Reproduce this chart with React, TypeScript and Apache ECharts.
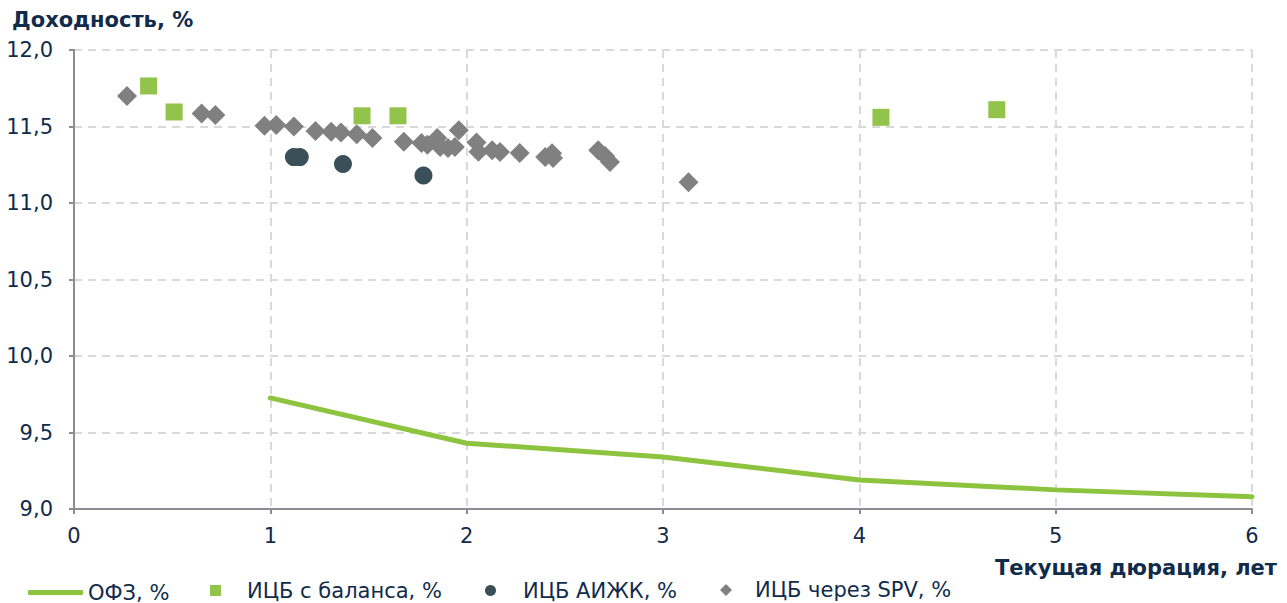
import React, { useEffect, useRef } from "react";
import * as echarts from "echarts";

const ofzDur = [1, 2, 3, 4, 5, 6];
const ofzYield = [9.726, 9.43, 9.34, 9.19, 9.125, 9.08];

const balanceDur = [0.38, 0.51, 1.467, 1.65, 4.11, 4.70];
const balanceYield = [11.765, 11.595, 11.57, 11.57, 11.56, 11.61];

const aizhkDur = [1.12, 1.15, 1.37, 1.78];
const aizhkYield = [11.3, 11.3, 11.255, 11.18];

const spvDur = [
  0.27, 0.65, 0.72, 0.97, 1.03, 1.12, 1.23, 1.31, 1.36, 1.44, 1.52, 1.68,
  1.77, 1.80, 1.85, 1.865, 1.905, 1.94, 1.96, 2.05, 2.06, 2.13, 2.17, 2.27,
  2.40, 2.435, 2.44, 2.67, 2.705, 2.73, 3.13,
];
const spvYield = [
  11.70, 11.585, 11.575, 11.505, 11.51, 11.50, 11.47, 11.465, 11.46, 11.45,
  11.425, 11.40, 11.392, 11.38, 11.425, 11.366, 11.36, 11.366, 11.475, 11.395,
  11.335, 11.345, 11.333, 11.327, 11.30, 11.325, 11.294, 11.345, 11.307,
  11.268, 11.135,
];

const xTicks = [0, 6, 1];
const yTicks = [9, 12, 0.5];

const seriesNames = ["ОФЗ, %", "ИЦБ с баланса, %", "ИЦБ АИЖК, %", "ИЦБ через SPV, %"];
const yTitle = "Доходность, %";
const xTitle = "Текущая дюрация, лет";

const zip = (a: number[], b: number[]) => a.map((v, i) => [v, b[i]]);

const FONT = "'DejaVu Sans', Verdana, sans-serif";
const TEXT = "#112B4B";
const AXIS = "#8C8C94";
const GRID = "#D9D9D9";
const GREEN_LINE = "#8CC43F";
const GREEN_SQ = "#92C44C";
const DARK = "#3B4F58";
const GRAY = "#808080";

export default function App() {
  const ref = useRef<HTMLDivElement>(null);
  useEffect(() => {
    if (!ref.current) return;
    const chart = echarts.init(ref.current, null, { renderer: "svg" });
    const legendBase = {
      orient: "horizontal",
      selectedMode: false,
      itemGap: 0,
      padding: 0,
      textStyle: { fontFamily: FONT, fontSize: 21, lineHeight: 18, color: TEXT },
    };
    chart.setOption({
      animation: false,
      backgroundColor: "#ffffff",
      textStyle: { fontFamily: FONT },
      grid: { left: 74, right: 35, top: 50, bottom: 94, containLabel: false },
      xAxis: {
        type: "value",
        min: xTicks[0],
        max: xTicks[1],
        interval: xTicks[2],
        axisLine: { show: true, lineStyle: { color: AXIS, width: 2 } },
        axisTick: { show: true, length: 5, lineStyle: { color: AXIS, width: 2 } },
        axisLabel: { color: TEXT, fontSize: 21, fontFamily: FONT, margin: 16 },
        splitLine: { show: true, lineStyle: { color: GRID, width: 2, type: [8, 6] } },
      },
      yAxis: {
        type: "value",
        min: yTicks[0],
        max: yTicks[1],
        interval: yTicks[2],
        axisLine: { show: true, lineStyle: { color: AXIS, width: 2 } },
        axisTick: { show: true, length: 5, lineStyle: { color: AXIS, width: 2 } },
        axisLabel: {
          color: TEXT,
          fontSize: 21,
          fontFamily: FONT,
          margin: 21,
          formatter: (v: number) => v.toFixed(1).replace(".", ","),
        },
        splitLine: { show: true, lineStyle: { color: GRID, width: 2, type: [8, 6] } },
      },
      legend: [
        {
          ...legendBase,
          left: 28,
          top: 582,
          itemWidth: 55,
          itemHeight: 5,
          data: [{ name: seriesNames[0], icon: "roundRect" }],
        },
        {
          ...legendBase,
          left: 210,
          top: 580,
          itemWidth: 11,
          itemHeight: 11,
          textStyle: { ...legendBase.textStyle, padding: [0, 0, 0, 21] },
          data: [{ name: seriesNames[1], icon: "rect" }],
        },
        {
          ...legendBase,
          left: 485,
          top: 580,
          itemWidth: 11,
          itemHeight: 11,
          textStyle: { ...legendBase.textStyle, padding: [0, 0, 0, 22] },
          data: [{ name: seriesNames[2], icon: "circle" }],
        },
        {
          ...legendBase,
          left: 720,
          top: 579.5,
          itemWidth: 12,
          itemHeight: 12,
          textStyle: { ...legendBase.textStyle, padding: [0, 0, 0, 18] },
          data: [{ name: seriesNames[3], icon: "diamond" }],
        },
      ],
      graphic: [
        {
          type: "text",
          left: 12,
          top: 9,
          style: { text: yTitle, font: `bold 21px ${FONT}`, fill: TEXT },
        },
        {
          type: "text",
          right: 10,
          top: 557,
          style: { text: xTitle, font: `bold 21px ${FONT}`, fill: TEXT },
        },
      ],
      series: [
        {
          name: seriesNames[0],
          type: "line",
          data: zip(ofzDur, ofzYield),
          showSymbol: false,
          symbol: "none",
          itemStyle: { color: GREEN_LINE },
          lineStyle: { color: GREEN_LINE, width: 5, cap: "round" },
          z: 2,
        },
        {
          name: seriesNames[1],
          type: "scatter",
          data: zip(balanceDur, balanceYield),
          symbol: "rect",
          symbolSize: 17,
          itemStyle: { color: GREEN_SQ, opacity: 1 },
          z: 3,
        },
        {
          name: seriesNames[2],
          type: "scatter",
          data: zip(aizhkDur, aizhkYield),
          symbol: "circle",
          symbolSize: 18,
          itemStyle: { color: DARK, opacity: 1 },
          z: 4,
        },
        {
          name: seriesNames[3],
          type: "scatter",
          data: zip(spvDur, spvYield),
          symbol: "diamond",
          symbolSize: 20,
          itemStyle: { color: GRAY, opacity: 1 },
          z: 5,
        },
      ],
    });
    return () => chart.dispose();
  }, []);
  return (
    <div
      ref={ref}
      style={{ position: "fixed", left: 0, top: 0, width: 1287, height: 603 }}
    />
  );
}
